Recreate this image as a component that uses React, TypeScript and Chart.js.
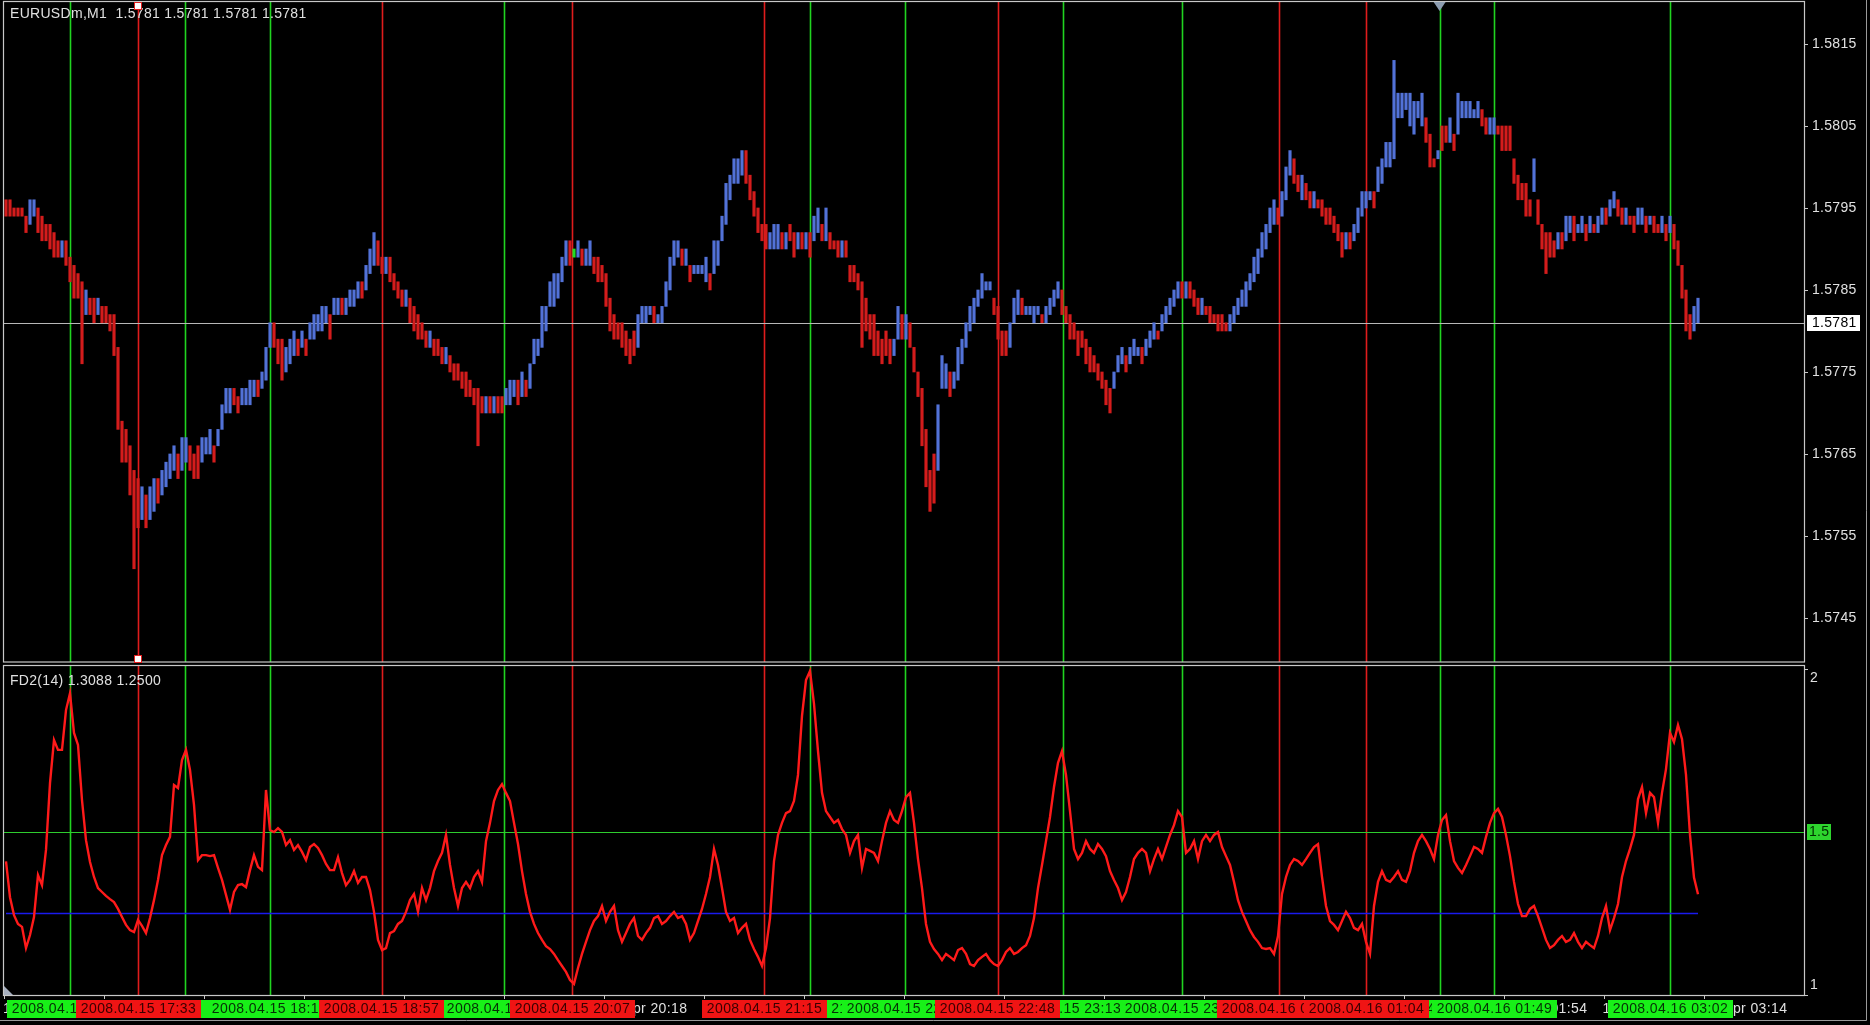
import React, { useEffect, useRef } from "react";
import { Chart, registerables } from "chart.js";

Chart.register(...registerables);

// ================= DATA =================
const SYMBOL = "EURUSDm,M1";
const LAST_OHLC = [1.5781, 1.5781, 1.5781, 1.5781];
const BASE_PRICE = 1.57;
const PIP = 0.0001;

// one entry per M1 bar (pips above BASE_PRICE)
const BAR_LOW_PIPS = [
  94,94,94,94,94,92,93,94,92,91, 91,90,89,89,89,88,86,84,84,76,
  82,82,81,82,81,81,80,77,68,64, 64,60,51,56,57,56,57,58,59,60,
  61,62,63,62,63,64,63,62,62,64, 65,65,64,66,68,70,70,71,70,71,
  71,71,72,72,73,74,78,78,76,74, 75,76,77,77,78,77,79,79,80,80,
  81,79,82,82,82,82,83,83,84,84, 85,87,88,88,87,87,86,85,84,83,
  83,81,80,79,79,78,78,77,77,76, 76,75,74,74,73,72,72,71,66,70,
  70,70,70,70,70,71,71,72,71,72, 72,73,76,77,78,80,83,83,84,86,
  88,88,89,89,88,88,88,87,86,86, 83,80,79,79,78,77,76,77,78,81,
  81,82,81,81,81,83,85,88,89,88, 88,86,87,87,87,86,85,87,88,91,
  93,96,98,98,99,98,96,94,92,91, 90,90,90,90,90,90,91,89,90,90,
  90,89,91,92,91,91,90,90,89,89, 89,86,86,85,78,80,79,77,77,76,
  77,76,77,79,79,79,78,75,72,66, 61,58,59,63,73,73,72,73,74,76,
  78,80,81,83,84,85,85,82,79,77, 77,78,81,82,82,82,82,81,82,81,
  81,82,83,84,82,81,79,79,77,78, 76,75,75,74,73,71,70,73,75,76,
  75,76,77,77,76,77,78,79,79,80, 81,82,83,84,84,84,84,83,82,82,
  82,81,81,80,80,80,80,81,82,83, 83,85,86,87,89,90,92,93,93,94,
  96,99,98,97,96,96,95,95,95,94, 93,93,92,91,89,90,90,91,92,94,
  95,96,95,97,98,100,100,101,106,106, 107,105,104,106,105,103,100,100,101,102,
  103,103,102,104,106,106,106,106,106,105, 104,104,104,104,102,102,102,98,96,96,
  94,94,97,93,90,87,89,89,90,90, 91,92,91,92,92,91,92,92,92,93,
  93,94,95,94,93,93,93,92,93,93, 92,93,92,92,92,91,92,90,88,84,
  80,79,80,81,
];

const BAR_HIGH_PIPS = [
  96,96,95,95,95,94,96,96,95,94, 93,93,92,91,91,91,89,88,87,86,
  85,84,84,84,83,83,82,82,78,69, 68,66,63,62,61,60,61,62,62,63,
  64,65,66,65,67,67,66,65,66,67, 67,68,66,68,71,73,73,73,72,73,
  73,74,74,74,75,78,81,81,79,79, 78,79,80,79,80,79,81,82,82,83,
  83,82,84,84,84,84,85,85,86,86, 88,90,92,91,89,89,89,87,86,85,
  85,84,83,82,81,80,80,79,79,78, 78,77,76,76,75,75,74,73,73,72,
  72,72,72,72,72,73,74,74,74,75, 74,76,79,79,83,83,86,87,87,89,
  91,91,90,91,90,90,91,89,89,88, 87,84,82,81,81,80,79,80,82,83,
  83,83,83,82,83,86,89,91,91,90, 90,88,88,88,88,89,87,91,91,94,
  98,99,101,101,102,102,99,97,95,93, 93,92,93,93,92,92,93,92,92,92,
  92,92,94,95,93,95,92,91,91,91, 91,88,88,87,86,84,82,82,80,79,
  80,79,79,83,82,82,81,78,75,73, 68,63,65,71,77,76,75,75,78,79,
  81,83,84,85,87,86,86,84,83,80, 80,81,84,85,84,83,83,83,83,82,
  83,84,85,86,85,83,82,81,80,80, 79,78,77,76,75,74,73,75,77,78,
  77,78,79,78,78,79,80,81,80,82, 83,84,85,86,86,86,86,85,84,84,
  83,83,82,82,82,81,82,83,84,85, 86,87,89,90,92,93,95,96,95,97,
  100,102,101,99,99,98,97,97,96,96, 95,95,94,93,92,92,92,93,95,97,
  97,97,97,100,101,103,103,113,109,109, 109,109,108,108,109,106,104,101,102,105,
  105,106,104,109,108,108,108,107,108,107, 106,106,106,105,105,105,105,101,99,98,
  98,96,101,96,93,92,92,91,92,92, 94,94,94,93,94,93,94,93,94,95,
  95,96,97,96,95,95,94,94,95,95, 94,94,94,93,94,93,94,93,91,88,
  85,82,83,84,
];

// r = bearish (red), b = bullish (blue), g = doji (lime)
const BAR_DIRECTION = (
  "rrrrrrbbrr" + "rrrrbrrrrr" + "brrbrrrrrr" + "rrrrbrbbrb" + "bbbrbbrrrb" +
  "bbrbbbbrrb" + "bbbrbbbrrr" + "bbbrbrbbbb" + "brbbrbbbbr" + "bbbrrbrrrr" +
  "brrrrrbrrr" + "brrrrrrrrr" + "brbrrbbbrb" + "rbbbbbbbbb" + "brgbrbbrrr" +
  "rrrrrrrrbb" + "bbrbbbbbbr" + "brbbbbrbbb" + "bbbbbrrrrr" + "rbbbrbrrbr" +
  "brbbrbrrrb" + "rrrrrrrrrr" + "rrbbrbrrrr" + "rrrbbbrbbb" + "bbbbbbbrrr" +
  "rbbbrbbbbr" + "bbbbrrrrrr" + "rrrrrrrbbb" + "rbbbrbbbrb" + "bbbbrbrrrb" +
  "rrrrrrbbbb" + "bbbbbbbbrb" + "bbrrbrrbrr" + "rrrrrbrbbb" + "bbrbbbbbbb" +
  "bbbbbrrrbr" + "rbrbbbbbbr" + "rbbrrrrrrr" + "rrbrrrrrbr" + "bbrbbrbrbb" +
  "rbbrrbrrbb" + "rbrrbrbrrr" + "rrbb"
).split("");

// FD2(14) indicator, one value per bar
const FD2_VALUES = [
  1.410,1.300,1.245,1.218,1.209,1.144,1.184,1.239,1.368,1.337,
  1.445,1.650,1.782,1.752,1.752,1.874,1.926,1.804,1.767,1.598,
  1.475,1.408,1.362,1.328,1.316,1.304,1.294,1.285,1.264,1.239,
  1.215,1.199,1.193,1.230,1.212,1.190,1.236,1.291,1.353,1.429,
  1.460,1.485,1.644,1.635,1.721,1.752,1.690,1.583,1.414,1.429,
  1.429,1.426,1.429,1.390,1.353,1.307,1.261,1.316,1.337,1.340,
  1.331,1.383,1.429,1.393,1.383,1.629,1.506,1.500,1.512,1.500,
  1.460,1.475,1.445,1.460,1.439,1.414,1.454,1.463,1.451,1.429,
  1.402,1.383,1.383,1.423,1.374,1.337,1.353,1.380,1.344,1.362,
  1.362,1.322,1.255,1.169,1.138,1.144,1.190,1.196,1.218,1.227,
  1.255,1.291,1.310,1.255,1.328,1.291,1.328,1.380,1.411,1.436,
  1.491,1.399,1.328,1.273,1.328,1.347,1.328,1.362,1.380,1.347,
  1.472,1.528,1.595,1.629,1.647,1.620,1.595,1.528,1.463,1.380,
  1.310,1.255,1.218,1.190,1.169,1.150,1.141,1.126,1.107,1.089,
  1.071,1.046,1.034,1.083,1.126,1.163,1.199,1.227,1.242,1.273,
  1.227,1.255,1.273,1.199,1.163,1.190,1.218,1.236,1.181,1.169,
  1.190,1.206,1.236,1.242,1.218,1.227,1.242,1.255,1.236,1.242,
  1.218,1.169,1.190,1.227,1.264,1.310,1.362,1.448,1.399,1.328,
  1.255,1.227,1.236,1.190,1.206,1.218,1.169,1.141,1.117,1.089,
  1.144,1.236,1.411,1.491,1.528,1.558,1.564,1.595,1.675,1.856,
  1.966,1.994,1.893,1.748,1.620,1.564,1.546,1.528,1.537,1.509,
  1.491,1.436,1.472,1.491,1.390,1.448,1.442,1.436,1.411,1.472,
  1.528,1.564,1.537,1.528,1.564,1.607,1.620,1.528,1.417,1.328,
  1.218,1.163,1.141,1.126,1.107,1.126,1.117,1.107,1.138,1.144,
  1.126,1.095,1.089,1.107,1.117,1.126,1.107,1.095,1.089,1.107,
  1.132,1.144,1.126,1.132,1.144,1.153,1.181,1.236,1.328,1.399,
  1.472,1.546,1.638,1.712,1.748,1.675,1.564,1.448,1.417,1.436,
  1.472,1.448,1.436,1.463,1.448,1.426,1.380,1.353,1.328,1.291,
  1.316,1.362,1.417,1.436,1.448,1.436,1.380,1.417,1.448,1.417,
  1.454,1.491,1.521,1.564,1.546,1.436,1.448,1.472,1.417,1.472,
  1.491,1.472,1.491,1.500,1.454,1.426,1.399,1.347,1.291,1.255,
  1.227,1.199,1.178,1.163,1.144,1.141,1.144,1.126,1.181,1.310,
  1.362,1.399,1.417,1.411,1.399,1.417,1.436,1.454,1.463,1.362,
  1.273,1.227,1.215,1.199,1.227,1.255,1.236,1.206,1.199,1.218,
  1.163,1.126,1.273,1.347,1.380,1.353,1.347,1.362,1.380,1.353,
  1.347,1.380,1.436,1.472,1.491,1.472,1.448,1.417,1.491,1.537,
  1.552,1.472,1.411,1.390,1.374,1.399,1.426,1.454,1.448,1.436,
  1.485,1.528,1.558,1.571,1.546,1.491,1.426,1.347,1.279,1.242,
  1.242,1.264,1.273,1.242,1.206,1.169,1.144,1.153,1.169,1.181,
  1.163,1.169,1.190,1.163,1.144,1.163,1.153,1.144,1.181,1.236,
  1.273,1.199,1.236,1.279,1.362,1.411,1.448,1.491,1.601,1.638,
  1.558,1.620,1.607,1.528,1.620,1.693,1.804,1.776,1.828,1.785,
  1.675,1.491,1.360,1.3088,
];
const FD2_PERIOD = 14;
const FD2_SIGNAL = 1.25;
const FD2_LEVEL = 1.5;
const BID = 1.5781;

const PRICE_TICKS = [1.5815, 1.5805, 1.5795, 1.5785, 1.5775, 1.5765, 1.5755, 1.5745];
const FD_AXIS_TICKS = [2, 1];

// vertical line objects (bar index, colour, time)
const VLINE_BARS = [15.95, 33, 44.75, 65.9, 93.9, 124.6, 141.5, 189.5, 201, 224.65, 247.9, 264.25, 294.1, 318.25, 340, 358.4, 372, 416];
const VLINE_KIND = ["g", "r", "g", "g", "r", "g", "r", "r", "g", "g", "r", "g", "g", "r", "r", "g", "g", "g"];
const VLINE_TIMES = [
  "2008.04.15 17:15", "2008.04.15 17:33", "2008.04.15 17:46", "2008.04.15 18:10",
  "2008.04.15 18:57", "2008.04.15 19:40", "2008.04.15 20:07", "2008.04.15 21:15",
  "2008.04.15 21:32", "2008.04.15 22:05", "2008.04.15 22:48", "2008.04.15 23:13",
  "2008.04.15 23:55", "2008.04.16 00:29", "2008.04.16 01:04", "2008.04.16 01:30",
  "2008.04.16 01:49", "2008.04.16 03:02",
];
const SELECTED_VLINE = 1;
const SHIFT_MARK_BAR = 358.4;

const TIME_TICK_BARS = [-0.5, 24.5, 49.5, 74.5, 99.5, 124.5, 149.5, 174.5, 199.5, 224.5, 249.5, 274.5, 299.5, 324.5, 349.5, 374.5, 399.5, 424.5];
const TIME_TICK_LABELS = [
  "15 Apr 2008", "15 Apr 17:24", "15 Apr 17:56", "15 Apr 18:31", "15 Apr 19:04", "15 Apr 19:42",
  "15 Apr 20:18", "15 Apr 20:52", "15 Apr 21:31", "15 Apr 22:08", "15 Apr 22:50", "15 Apr 23:30",
  "16 Apr 00:05", "16 Apr 00:40", "16 Apr 01:17", "16 Apr 01:54", "16 Apr 02:34", "16 Apr 03:14",
];

// ================= LAYOUT / STYLE =================
const W = 1870;
const H = 1025;
const PLOT_L = 3;
const PLOT_R = 1804;
const PLOT_T = 2;
const PLOT_B = 995;
const MAIN_BOTTOM = 662;
const SUB_TOP = 665;
const X_MIN = -0.75;
const X_MAX = 449.5;
const PRICE_AXIS_MIN = 1.569902;
const PRICE_AXIS_MAX = 1.582012;
const FD_AXIS_MIN = 1;
const FD_AXIS_MAX = 4.046;
const LABEL_BOX_W = 125;
const TIME_LABEL_OFFSET = -2;

const FONT = "'Liberation Sans', Arial, sans-serif";
const TEXT_COLOR = "#e0e0e0";
const BORDER_COLOR = "#c8c8c8";
const BAR_COLORS: Record<string, string> = { r: "#d41c1c", b: "#5272d8", g: "#22dd22" };
const VLINE_COLORS: Record<string, string> = { r: "#e01c1c", g: "#20d420" };
const BOX_COLORS: Record<string, string> = { r: "#f01414", g: "#18f018" };

function setSpacing(ctx: any, v: string) {
  if ("letterSpacing" in ctx) ctx.letterSpacing = v;
}

const mtPlugin = {
  id: "mt4look",
  beforeDraw(chart: any) {
    const ctx = chart.ctx;
    ctx.save();
    ctx.fillStyle = "#000000";
    ctx.fillRect(0, 0, chart.width, chart.height);
    ctx.restore();
  },
  beforeDatasetsDraw(chart: any) {
    const { ctx, scales } = chart;
    const xs = scales.x;
    const yP = scales.yP;
    const yF = scales.yF;
    ctx.save();
    VLINE_BARS.forEach((b, k) => {
      const x = Math.round(xs.getPixelForValue(b)) + 0.5;
      ctx.strokeStyle = VLINE_COLORS[VLINE_KIND[k]];
      ctx.lineWidth = 1.6;
      ctx.beginPath();
      ctx.moveTo(x, PLOT_T);
      ctx.lineTo(x, MAIN_BOTTOM);
      ctx.moveTo(x, SUB_TOP);
      ctx.lineTo(x, PLOT_B);
      ctx.stroke();
    });
    const yb = Math.round(yP.getPixelForValue(BID)) + 0.5;
    ctx.strokeStyle = "#b8b8b8";
    ctx.lineWidth = 1.2;
    ctx.beginPath();
    ctx.moveTo(PLOT_L, yb);
    ctx.lineTo(PLOT_R, yb);
    ctx.stroke();
    const yl = Math.round(yF.getPixelForValue(FD2_LEVEL)) + 0.5;
    ctx.strokeStyle = "#2ecc2e";
    ctx.beginPath();
    ctx.moveTo(PLOT_L, yl);
    ctx.lineTo(PLOT_R, yl);
    ctx.stroke();
    ctx.restore();
  },
  afterDatasetsDraw(chart: any) {
    const { ctx, scales } = chart;
    const xs = scales.x;
    const yP = scales.yP;
    const yF = scales.yF;
    ctx.save();
    ctx.strokeStyle = BORDER_COLOR;
    ctx.lineWidth = 1.2;
    ctx.strokeRect(PLOT_L + 0.5, PLOT_T - 0.5, PLOT_R - PLOT_L, MAIN_BOTTOM - PLOT_T + 0.5);
    ctx.strokeRect(PLOT_L + 0.5, SUB_TOP + 0.5, PLOT_R - PLOT_L, PLOT_B - SUB_TOP);
    ctx.lineWidth = 1;
    ctx.strokeStyle = "#9a9a9a";
    ctx.beginPath();
    ctx.moveTo(1866.5, 0);
    ctx.lineTo(1866.5, 1020.5);
    ctx.lineTo(0, 1020.5);
    ctx.stroke();

    // titles
    ctx.fillStyle = TEXT_COLOR;
    ctx.textBaseline = "middle";
    ctx.textAlign = "left";
    ctx.font = "14px " + FONT;
    setSpacing(ctx, "0.3px");
    ctx.fillText(SYMBOL + "  " + LAST_OHLC.map((v) => v.toFixed(4)).join(" "), 10, 14);
    const lastFd = FD2_VALUES[FD2_VALUES.length - 1];
    ctx.fillText("FD2(" + FD2_PERIOD + ") " + lastFd.toFixed(4) + " " + FD2_SIGNAL.toFixed(4), 10, 681);

    // price axis
    ctx.strokeStyle = BORDER_COLOR;
    PRICE_TICKS.forEach((p) => {
      const y = Math.round(yP.getPixelForValue(p)) + 0.5;
      ctx.beginPath();
      ctx.moveTo(PLOT_R, y);
      ctx.lineTo(PLOT_R + 4, y);
      ctx.stroke();
      ctx.fillStyle = TEXT_COLOR;
      ctx.fillText(p.toFixed(4), PLOT_R + 8, y);
    });
    const yb = Math.round(yP.getPixelForValue(BID));
    ctx.fillStyle = "#ffffff";
    ctx.fillRect(PLOT_R + 3, yb - 8, 53, 16);
    ctx.fillStyle = "#000000";
    ctx.fillText(BID.toFixed(4), PLOT_R + 8, yb + 0.5);

    // FD axis
    FD_AXIS_TICKS.forEach((v, k) => {
      const y = Math.round(yF.getPixelForValue(v)) + 0.5;
      ctx.strokeStyle = BORDER_COLOR;
      ctx.beginPath();
      ctx.moveTo(PLOT_R, y);
      ctx.lineTo(PLOT_R + 4, y);
      ctx.stroke();
      ctx.fillStyle = TEXT_COLOR;
      ctx.textBaseline = k === 0 ? "top" : "bottom";
      ctx.fillText(String(v), PLOT_R + 6, k === 0 ? y + 2 : y - 3);
    });
    ctx.textBaseline = "middle";
    const yl = Math.round(yF.getPixelForValue(FD2_LEVEL));
    ctx.fillStyle = "#2ed52e";
    ctx.fillRect(PLOT_R + 3, yl - 8, 24, 16);
    ctx.fillStyle = "#003000";
    ctx.fillText(String(FD2_LEVEL), PLOT_R + 5, yl + 0.5);

    // time axis
    ctx.font = "14px " + FONT;
    setSpacing(ctx, "0.4px");
    TIME_TICK_BARS.forEach((b, k) => {
      const x = Math.round(xs.getPixelForValue(b)) + 0.5;
      if (x > PLOT_R + 1) return;
      ctx.strokeStyle = BORDER_COLOR;
      ctx.beginPath();
      ctx.moveTo(x, PLOT_B);
      ctx.lineTo(x, PLOT_B + 4);
      ctx.stroke();
      ctx.fillStyle = TEXT_COLOR;
      ctx.fillText(TIME_TICK_LABELS[k], k === 0 ? 3 : x + TIME_LABEL_OFFSET, 1009);
    });
    ["g", "r"].forEach((kind) => {
      VLINE_BARS.forEach((b, k) => {
        if (VLINE_KIND[k] !== kind) return;
        const x = xs.getPixelForValue(b);
        const tw = ctx.measureText(VLINE_TIMES[k]).width;
        const x0 = Math.round(x - LABEL_BOX_W / 2);
        ctx.fillStyle = BOX_COLORS[kind];
        ctx.fillRect(x0, 1000, LABEL_BOX_W, 18);
        ctx.fillStyle = kind === "g" ? "#063006" : "#3a0000";
        ctx.fillText(VLINE_TIMES[k], x0 + (LABEL_BOX_W - tw) / 2, 1009.5);
      });
    });
    setSpacing(ctx, "0px");

    // selection handles
    const xsel = Math.round(xs.getPixelForValue(VLINE_BARS[SELECTED_VLINE]));
    [PLOT_T + 1, MAIN_BOTTOM - 6].forEach((yy) => {
      ctx.fillStyle = "#ffffff";
      ctx.fillRect(xsel - 3, yy, 6, 6);
      ctx.strokeStyle = "#e02020";
      ctx.lineWidth = 1;
      ctx.strokeRect(xsel - 3.5, yy - 0.5, 7, 7);
    });
    // chart shift marker
    const xm = xs.getPixelForValue(SHIFT_MARK_BAR);
    ctx.fillStyle = "#8c9cb0";
    ctx.beginPath();
    ctx.moveTo(xm - 6, PLOT_T);
    ctx.lineTo(xm + 6, PLOT_T);
    ctx.lineTo(xm, PLOT_T + 9);
    ctx.closePath();
    ctx.fill();
    // corner marker
    ctx.fillStyle = "#a8b0c0";
    ctx.beginPath();
    ctx.moveTo(PLOT_L + 1, PLOT_B - 9);
    ctx.lineTo(PLOT_L + 1, PLOT_B);
    ctx.lineTo(PLOT_L + 10, PLOT_B);
    ctx.closePath();
    ctx.fill();
    ctx.restore();
  },
};

export default function App() {
  const canvasRef = useRef<HTMLCanvasElement | null>(null);

  useEffect(() => {
    const canvas = canvasRef.current;
    if (!canvas) return;
    const n = BAR_LOW_PIPS.length;
    const barData = BAR_LOW_PIPS.map((lo, i) => ({
      x: i,
      y: [BASE_PRICE + lo * PIP, BASE_PRICE + BAR_HIGH_PIPS[i] * PIP],
    }));
    const barColors = BAR_DIRECTION.map((d) => BAR_COLORS[d]);
    const chart = new Chart(canvas, {
      type: "bar",
      data: {
        datasets: [
          {
            type: "line",
            label: "FD2",
            data: FD2_VALUES.map((v, i) => ({ x: i, y: v })),
            xAxisID: "x",
            yAxisID: "yF",
            borderColor: "#ff1a1a",
            borderWidth: 2.4,
            pointRadius: 0,
            tension: 0,
            order: 0,
          },
          {
            type: "line",
            label: "signal",
            data: [
              { x: 0, y: FD2_SIGNAL },
              { x: n - 1, y: FD2_SIGNAL },
            ],
            xAxisID: "x",
            yAxisID: "yF",
            borderColor: "#1a1aee",
            borderWidth: 1.5,
            pointRadius: 0,
            order: 1,
          },
          {
            type: "bar",
            label: "EURUSDm",
            data: barData,
            xAxisID: "x",
            yAxisID: "yP",
            backgroundColor: barColors,
            borderWidth: 0,
            barThickness: 2.5,
            order: 2,
          },
        ],
      } as any,
      options: {
        responsive: false,
        animation: false,
        events: [],
        layout: { padding: { left: PLOT_L, top: PLOT_T, right: W - PLOT_R, bottom: H - PLOT_B } },
        scales: {
          x: { type: "linear", min: X_MIN, max: X_MAX, offset: false, display: false },
          yP: { type: "linear", position: "right", min: PRICE_AXIS_MIN, max: PRICE_AXIS_MAX, display: false },
          yF: { type: "linear", position: "right", min: FD_AXIS_MIN, max: FD_AXIS_MAX, display: false },
        },
        plugins: { legend: { display: false }, tooltip: { enabled: false } },
      } as any,
      plugins: [mtPlugin],
    });
    return () => chart.destroy();
  }, []);

  return (
    <div style={{ position: "fixed", left: 0, top: 0, width: W, height: H, background: "#000" }}>
      <canvas ref={canvasRef} width={W} height={H} style={{ display: "block", width: W, height: H }} />
    </div>
  );
}
